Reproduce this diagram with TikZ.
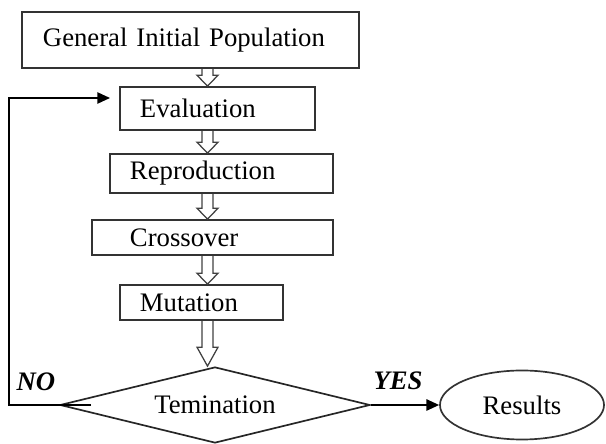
\documentclass[tikz,border=0pt]{standalone}
\usepackage{fontspec}
\setmainfont{Liberation Serif}
\usetikzlibrary{shapes.geometric}
\usetikzlibrary{arrows.meta}
\usetikzlibrary{calc}

\tikzset{
  stepbox/.style={draw=black!80, line width=1.2pt, rectangle, inner xsep=0pt, inner ysep=0pt, align=left},
  flow/.style={line width=1.2pt, -{Triangle[length=9pt,width=8pt]}},
  hollow/.style={line width=0.9pt, draw=black!75, to path={let \p1=(\tikztostart), \p2=(\tikztotarget) in
    (\x1-3.9pt,\y1) -- (\x1-3.9pt,\y2+#1) -- (\x1-7.5pt,\y2+#1) -- (\x1,\y2)
    -- (\x1+7.5pt,\y2+#1) -- (\x1+3.9pt,\y2+#1) -- (\x1+3.9pt,\y1)}},
  hollow/.default=7.8pt
}

\begin{document}
\begin{tikzpicture}[x=0.025cm, y=-0.025cm, font=\fontsize{19}{22}\selectfont]

\useasboundingbox (0,0) rectangle (606,444);
\clip (0,0) rectangle (606,444);

\node[stepbox, minimum width=8.425cm, text width=7.375cm, minimum height=1.4cm] (gip) at (190.5,40) {General Initial Population};
\node[stepbox, minimum width=4.875cm, text width=3.875cm, minimum height=1.075cm] (eval) at (217.5,108.5) {Evaluation};
\node[stepbox, minimum width=5.575cm, text width=4.575cm, minimum height=0.975cm] (repro) at (221.5,173.5) {Reproduction};
\node[stepbox, minimum width=6.025cm, text width=4.125cm, minimum height=0.875cm] (cross) at (212.5,237.5) {Crossover};
\node[stepbox, minimum width=4.075cm, text width=3.075cm, minimum height=0.875cm] (mut) at (201.5,302.5) {Mutation};

\node[diamond, aspect=4.08, draw=black!85, line width=1.2pt, inner sep=0pt, minimum width=7.75cm, minimum height=1.9cm] (dia) at (215,405) {Temination};
\node[ellipse, draw=black!80, line width=1.2pt, inner sep=0pt, minimum width=4.1cm, minimum height=1.725cm] (res) at (522,405) {Results};

\node (no) at (36,382) {\textbf{\textit{NO}}};
\node (yes) at (398,381) {\textbf{\textit{YES}}};

\coordinate (col) at (207.5,0);
\coordinate (loop) at (9,250);
\coordinate (evalin) at (110,98);

\draw[hollow] (gip.south -| col) to (eval.north -| col);
\draw[hollow] (eval.south -| col) to (repro.north -| col);
\draw[hollow] (repro.south -| col) to (cross.north -| col);
\draw[hollow] (cross.south -| col) to (mut.north -| col);
\draw[hollow=13.5pt] (mut.south -| col) to (dia.north -| col);

\draw[flow] ([xshift=0.8cm]dia.west) -| (loop) |- (evalin);
\draw[flow] (dia.east) -- (res.west);

\end{tikzpicture}
\end{document}
